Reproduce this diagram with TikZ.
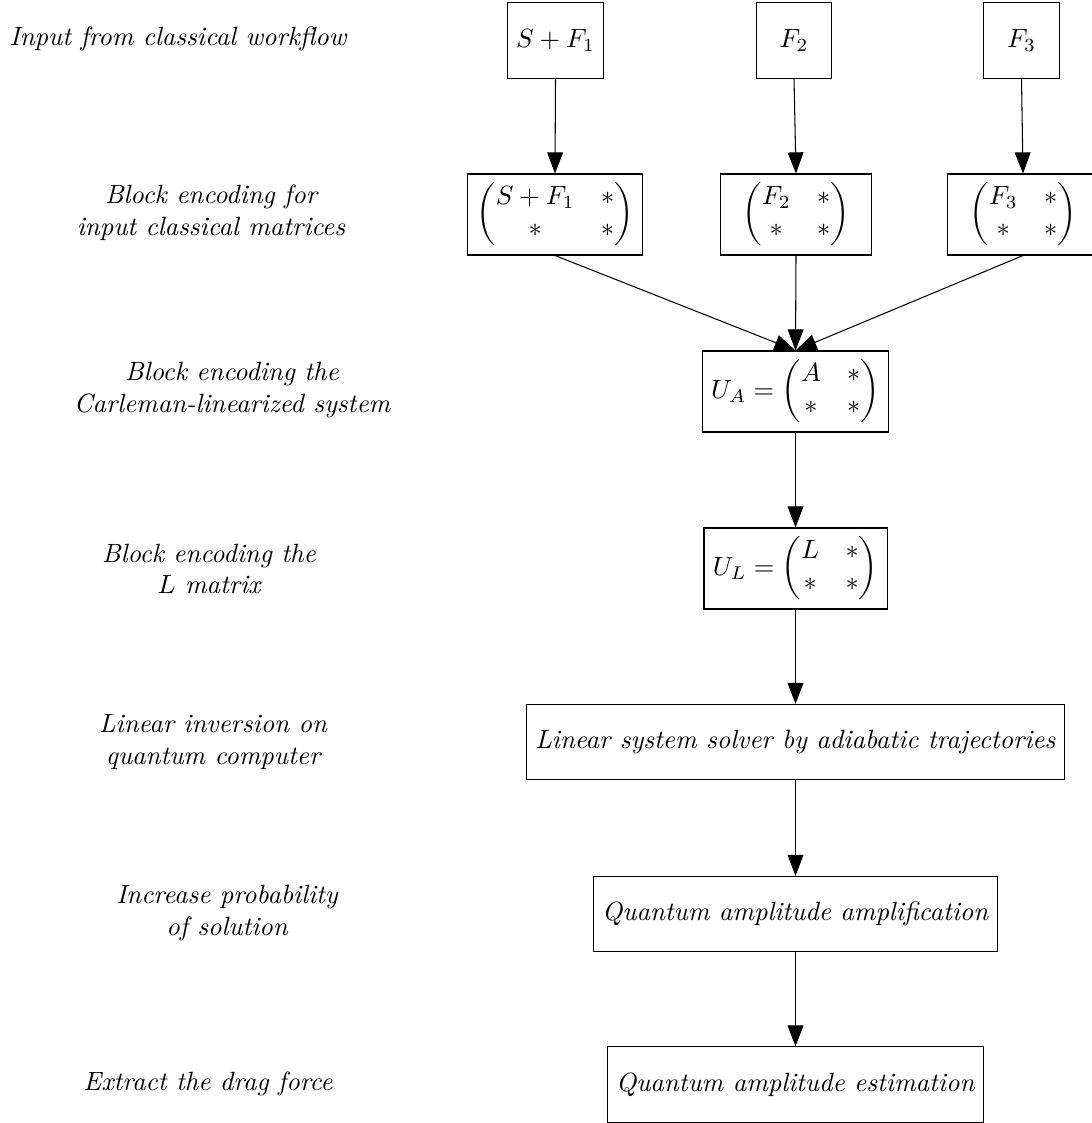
\documentclass[tikz,border=0pt]{standalone}
\usepackage{amsmath}
\usetikzlibrary{arrows.meta}
\tikzset{
  box/.style={draw, line width=0.4pt, minimum width=1cm, minimum height=1cm, inner sep=3.333pt, align=center},
  mbox/.style={box, minimum width=2cm},
  lab/.style={align=center, font=\itshape},
  arr/.style={-{Triangle[width=6pt,length=8pt]}, line width=0.4pt}
}
\begin{document}
\begin{tikzpicture}[x=0.3788pt, y=-0.3788pt]
\useasboundingbox (0,0) rectangle (1091,1123);
% top inputs
\node[box] (t1) at (555.5,40.5) {$S+F_1$};
\node[box] (t2) at (794,40.5) {$F_2$};
\node[box] (t3) at (1021.5,40.5) {$F_3$};
% block encodings
\node[mbox] (m1) at (555,214.5) {$\begin{pmatrix} S+F_1 & * \\ * & * \end{pmatrix}$};
\node[mbox] (m2) at (796,214.5) {$\begin{pmatrix} F_2 & * \\ * & * \end{pmatrix}$};
\node[mbox] (m3) at (1023,214.5) {$\begin{pmatrix} F_3 & * \\ * & * \end{pmatrix}$};
\node[mbox] (ua) at (795.5,391.5) {$U_A = \begin{pmatrix} A & * \\ * & * \end{pmatrix}$};
\node[mbox] (ul) at (795.5,568.5) {$U_L = \begin{pmatrix} L & * \\ * & * \end{pmatrix}$};
\node[box] (sol) at (795.5,742) {\textit{Linear system solver by adiabatic trajectories}};
\node[box] (qaa) at (795.5,914) {\textit{Quantum amplitude amplification}};
\node[box] (qae) at (795.5,1084.5) {\textit{Quantum amplitude estimation}};
% labels
\node[lab] (l1) at (178,39) {Input from classical workflow};
\node[lab] (l2) at (211,213) {Block encoding for\\input classical matrices};
\node[lab] (l3) at (232,390) {Block encoding the\\Carleman-linearized system};
\node[lab] (l4) at (209,569) {Block encoding the\\$L$ matrix};
\node[lab] (l5) at (213,742) {Linear inversion on\\quantum computer};
\node[lab] (l6) at (227,913) {Increase probability\\of solution};
\node[lab] (l7) at (208,1084) {Extract the drag force};
% connectors
\draw[arr] (t1.south) -- (m1.north);
\draw[arr] (t2.south) -- (m2.north);
\draw[arr] (t3.south) -- (m3.north);
\draw[arr] (m1.south) -- (ua.north);
\draw[arr] (m2.south) -- (ua.north);
\draw[arr] (m3.south) -- (ua.north);
\draw[arr] (ua) -- (ul);
\draw[arr] (ul) -- (sol);
\draw[arr] (sol) -- (qaa);
\draw[arr] (qaa) -- (qae);
\end{tikzpicture}
\end{document}
